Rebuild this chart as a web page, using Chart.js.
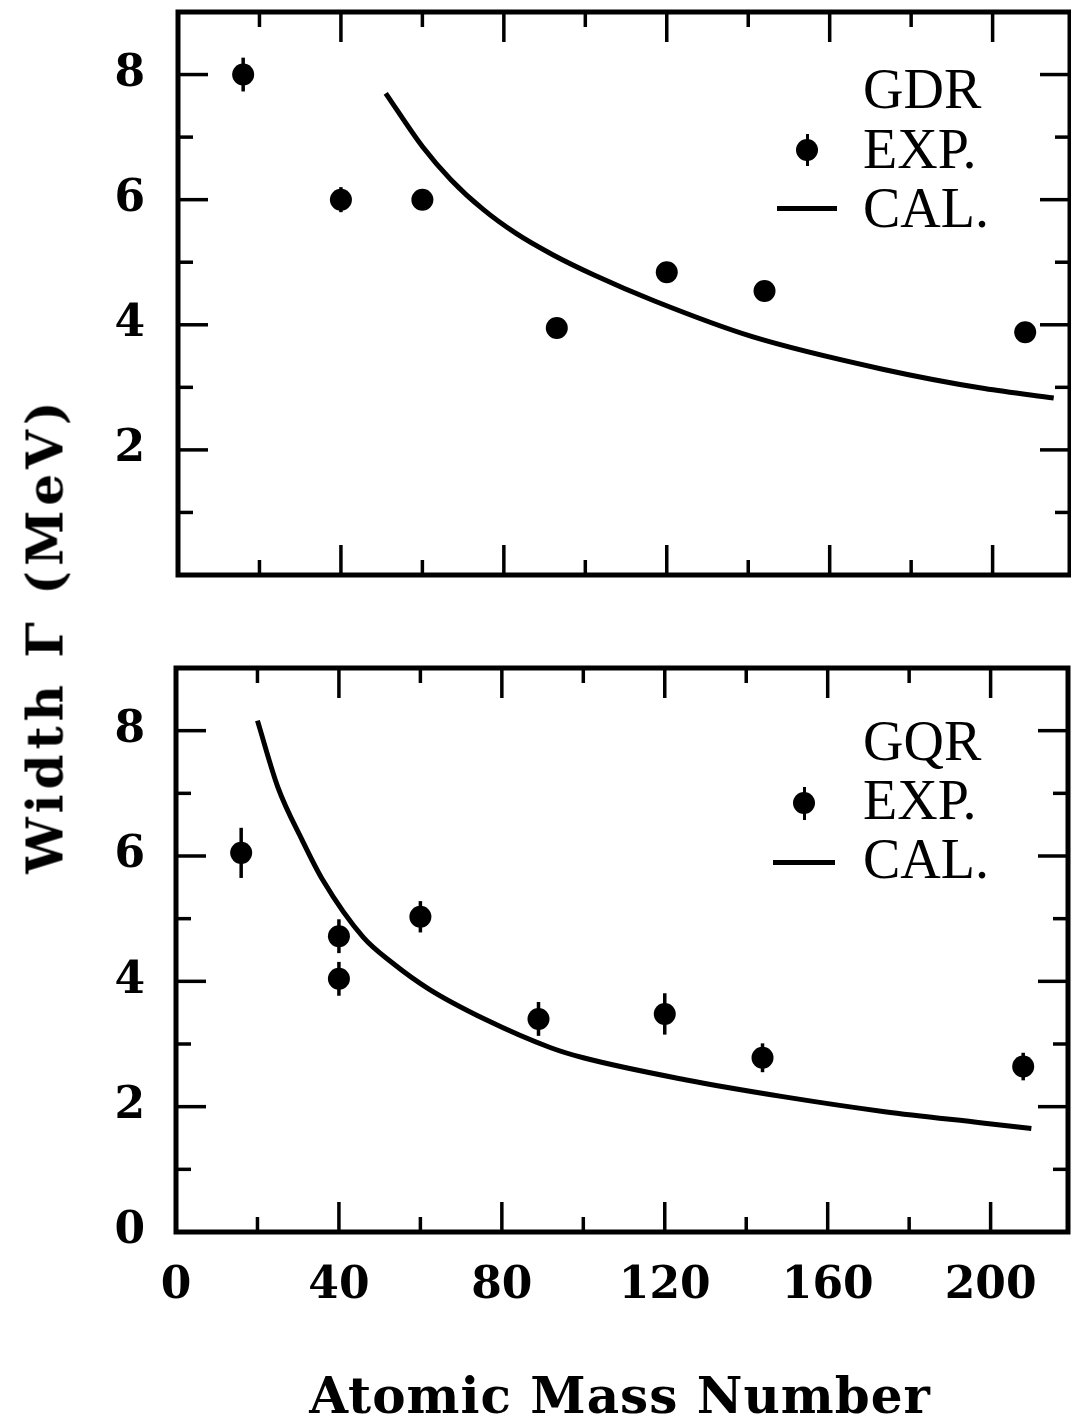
<!DOCTYPE html>
<html>
<head>
<meta charset="utf-8">
<script src="https://cdn.jsdelivr.net/npm/chart.js@4/dist/chart.umd.min.js"></script>
<style>
  body { margin: 0; background: #fff; width: 1071px; height: 1427px; position: relative; overflow: hidden; }
  canvas { position: absolute; left: 0; }
  .leg { position: absolute; left: 863px; font-family: "Liberation Serif", serif; font-size: 56px; line-height: 56px; color: #000; white-space: nowrap; }
  .dot { position: absolute; width: 22px; height: 22px; border-radius: 50%; background: #000; }
  .bar { position: absolute; width: 3px; background: #000; }
  .seg { position: absolute; height: 5px; background: #000; }
  .title { position: absolute; font-family: "DejaVu Serif", serif; font-weight: bold; color: #000; white-space: nowrap; }
</style>
</head>
<body>
<canvas id="gdr" width="1071" height="600" style="top:0"></canvas>
<canvas id="gqr" width="1071" height="700" style="top:640px"></canvas>

<div class="leg" style="top:61px">GDR</div>
<div class="leg" style="top:121px">EXP.</div>
<div class="leg" style="top:180px">CAL.</div>
<div class="bar" style="left:806px;top:134px;height:32px"></div>
<div class="dot" style="left:796px;top:139px"></div>
<div class="seg" style="left:777px;top:206px;width:60px"></div>

<div class="leg" style="top:713px">GQR</div>
<div class="leg" style="top:772px">EXP.</div>
<div class="leg" style="top:831px">CAL.</div>
<div class="bar" style="left:803px;top:787px;height:33px"></div>
<div class="dot" style="left:793px;top:792px"></div>
<div class="seg" style="left:773px;top:860px;width:62px"></div>

<div class="title" style="left:45px;top:635px;font-size:50px;transform:translate(-50%,-50%) rotate(-90deg);letter-spacing:5px">Width &Gamma; (MeV)</div>
<div class="title" style="left:620px;top:1395px;font-size:50px;transform:translate(-50%,-50%);letter-spacing:1px">Atomic Mass Number</div>

<script>
// GDR panel
const gdrA = [16, 40, 60, 93, 120, 144, 208];
const gdrW = [8.0, 6.0, 6.0, 3.95, 4.84, 4.54, 3.88];
const gdrErr = [0.27, 0.2, 0, 0, 0, 0, 0];
const gdrCalA = [51, 60, 67, 75, 83, 92, 102, 117, 141, 173, 198, 215];
const gdrCalW = [7.70, 6.85, 6.32, 5.84, 5.46, 5.12, 4.80, 4.38, 3.81, 3.29, 2.98, 2.83];

// GQR panel
const gqrA = [16, 40, 40, 60, 89, 120, 144, 208];
const gqrW = [6.05, 4.72, 4.04, 5.03, 3.40, 3.48, 2.78, 2.64];
const gqrErr = [0.4, 0.27, 0.27, 0.25, 0.27, 0.33, 0.23, 0.22];
const gqrCalA = [20, 25, 31, 36, 46, 53, 62, 76, 92, 100, 125, 149, 174, 198, 210];
const gqrCalW = [8.16, 7.10, 6.25, 5.62, 4.70, 4.30, 3.88, 3.39, 2.94, 2.78, 2.43, 2.16, 1.92, 1.74, 1.65];

// axis ticks
const xMajor = [40, 80, 120, 160, 200];
const xMinor = [20, 60, 100, 140, 180];
const yMajor = [2, 4, 6, 8];
const yMinor = [1, 3, 5, 7];

const pts = (xs, ys) => xs.map((v, i) => ({x: v, y: ys[i]}));

const framePlugin = {
  id: 'frame',
  beforeDatasetsDraw(chart) {
    const {ctx, scales: {x, y}} = chart;
    ctx.save();
    ctx.strokeStyle = '#000';
    ctx.lineWidth = 3.5;
    chart.data.datasets.forEach(ds => {
      if (!ds.errors) return;
      ds.data.forEach((p, i) => {
        const e = ds.errors[i];
        if (!e) return;
        const px = x.getPixelForValue(p.x);
        ctx.beginPath();
        ctx.moveTo(px, y.getPixelForValue(p.y - e));
        ctx.lineTo(px, y.getPixelForValue(p.y + e));
        ctx.stroke();
      });
    });
    ctx.restore();
  },
  afterDraw(chart) {
    const {ctx, chartArea: a, scales: {x, y}} = chart;
    ctx.save();
    ctx.strokeStyle = '#000';
    ctx.lineWidth = 5;
    ctx.strokeRect(a.left, a.top, a.width, a.height);
    ctx.lineWidth = 3.5;
    const tick = (x1, y1, x2, y2) => { ctx.beginPath(); ctx.moveTo(x1, y1); ctx.lineTo(x2, y2); ctx.stroke(); };
    xMajor.concat(xMinor).forEach(v => {
      const len = xMajor.includes(v) ? 30 : 15;
      const px = x.getPixelForValue(v);
      tick(px, a.bottom, px, a.bottom - len);
      tick(px, a.top, px, a.top + len);
    });
    yMajor.concat(yMinor).forEach(v => {
      const len = yMajor.includes(v) ? 30 : 15;
      const py = y.getPixelForValue(v);
      tick(a.left, py, a.left + len, py);
      tick(a.right, py, a.right - len, py);
    });
    ctx.restore();
  }
};

const tickFont = {family: 'DejaVu Serif', weight: 'bold', size: 44};

function noPad(s) {
  s.paddingTop = 0; s.paddingBottom = 0; s.paddingLeft = 0; s.paddingRight = 0;
}

function makeChart(id, exp, err, cal, opt) {
  return new Chart(document.getElementById(id), {
    type: 'scatter',
    data: {
      datasets: [
        {data: exp, errors: err, pointRadius: 11, pointBackgroundColor: '#000', pointBorderWidth: 0, showLine: false},
        {data: cal, showLine: true, borderColor: '#000', borderWidth: 5, pointRadius: 0, cubicInterpolationMode: 'monotone'}
      ]
    },
    options: {
      responsive: false,
      animation: false,
      devicePixelRatio: 1,
      layout: {autoPadding: false, padding: {top: opt.top, right: opt.right, left: 0, bottom: 0}},
      plugins: {legend: {display: false}, tooltip: {enabled: false}},
      scales: {
        x: {
          type: 'linear', min: 0, max: 219,
          grid: {display: false, drawTicks: false}, border: {display: false},
          ticks: {display: opt.xLabels, stepSize: 40, includeBounds: false, padding: 28, color: '#000', font: tickFont},
          afterFit: s => { s.height = opt.xh; noPad(s); }
        },
        y: {
          min: 0, max: 9,
          grid: {display: false, drawTicks: false}, border: {display: false},
          ticks: {stepSize: 2, includeBounds: false, padding: opt.ypad, color: '#000', font: tickFont,
                  callback: v => (v === 0 && !opt.zero) ? '' : v},
          afterFit: s => { s.width = opt.yw; noPad(s); }
        }
      }
    },
    plugins: [framePlugin]
  });
}

makeChart('gdr', pts(gdrA, gdrW), gdrErr, pts(gdrCalA, gdrCalW),
  {top: 12, right: 1, xh: 25, yw: 178, ypad: 33, xLabels: false, zero: false});
makeChart('gqr', pts(gqrA, gqrW), gqrErr, pts(gqrCalA, gqrCalW),
  {top: 28, right: 3, xh: 108, yw: 176, ypad: 31, xLabels: true, zero: true});
</script>
</body>
</html>
